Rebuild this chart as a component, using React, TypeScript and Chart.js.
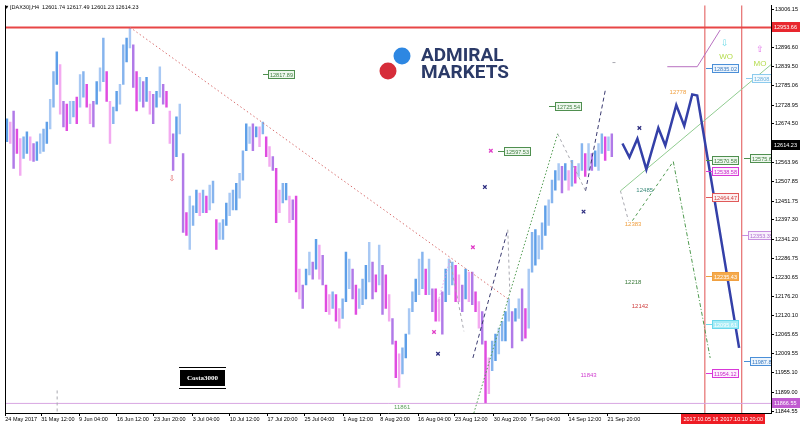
import React, { useEffect, useRef } from "react";
import { Chart, registerables } from "chart.js";

Chart.register(...registerables);

// ---------------- data ----------------
// H4 candle ranges (sampled), price units
const candleHighs = [
  12689, 12680, 12712, 12660, 12632, 12637, 12652, 12637, 12618, 12623,
  12646, 12660, 12680, 12746, 12826, 12883, 12846, 12740, 12732, 12740,
  12740, 12752, 12817, 12826, 12789, 12732, 12740, 12797, 12837, 12923,
  12826, 12740, 12723, 12769, 12789, 12903, 12923, 12954, 12903, 12826,
  12809, 12797, 12809, 12769, 12760, 12769, 12840, 12789, 12769, 12712,
  12646, 12695, 12732, 12589, 12418, 12466, 12438, 12483, 12475, 12483,
  12466, 12498, 12509, 12398, 12389, 12398, 12446, 12475, 12483, 12503,
  12532, 12597, 12675, 12666, 12675, 12666, 12666, 12680, 12637, 12609,
  12580, 12546, 12483, 12503, 12503, 12466, 12455, 12466, 12255, 12209,
  12255, 12304, 12275, 12341, 12324, 12295, 12209, 12181, 12189, 12181,
  12141, 12169, 12304, 12284, 12255, 12209, 12198, 12226, 12266, 12332,
  12275, 12238, 12324, 12266, 12238, 12181, 12112, 12047, 12010, 12027,
  12067, 12141, 12189, 12226, 12284, 12304, 12255, 12284, 12198, 12198,
  12169, 12189, 12255, 12284, 12275, 12266, 12238, 12209, 12255, 12246,
  12246, 12189, 12161, 12132, 12047, 11998, 12047, 12067, 12084, 12104,
  12132, 12169, 12132, 12141, 12169, 12198, 12141, 12255, 12361, 12369,
  12352, 12389, 12438, 12455, 12512, 12540, 12560, 12552, 12560, 12540,
  12569, 12552, 12560, 12618, 12589, 12618, 12589, 12597, 12618, 12646,
  12637, 12637, 12646,
];
const candleLows = [
  12623, 12618, 12546, 12589, 12526, 12575, 12589, 12569, 12566, 12569,
  12589, 12595, 12618, 12660, 12723, 12789, 12703, 12666, 12655, 12675,
  12695, 12675, 12723, 12752, 12723, 12675, 12666, 12732, 12769, 12797,
  12740, 12618, 12675, 12712, 12732, 12789, 12854, 12894, 12780, 12712,
  12740, 12723, 12740, 12703, 12675, 12723, 12752, 12732, 12723, 12618,
  12540, 12580, 12646, 12361, 12352, 12312, 12381, 12418, 12409, 12418,
  12418, 12426, 12446, 12312, 12341, 12341, 12381, 12409, 12426, 12426,
  12460, 12512, 12597, 12618, 12597, 12637, 12609, 12646, 12580, 12552,
  12540, 12389, 12418, 12446, 12455, 12389, 12398, 12189, 12169, 12141,
  12209, 12238, 12226, 12255, 12226, 12209, 12132, 12124, 12141, 12104,
  12084, 12112, 12161, 12198, 12169, 12124, 12141, 12152, 12169, 12218,
  12169, 12189, 12209, 12124, 12141, 12104, 12038, 11941, 11913, 11952,
  11998, 12067, 12132, 12161, 12181, 12198, 12181, 12181, 12132, 12104,
  12104, 12067, 12161, 12181, 12209, 12161, 12161, 12132, 12169, 12161,
  12152, 12132, 12084, 12038, 11867, 11895, 11961, 11990, 12010, 12047,
  12047, 12104, 12027, 12104, 12112, 12047, 12055, 12084, 12246, 12266,
  12284, 12312, 12352, 12381, 12446, 12483, 12512, 12475, 12512, 12483,
  12495, 12503, 12523, 12540, 12523, 12540, 12540, 12552, 12540, 12589,
  12569, 12597, 12580,
];

const xTickBars = [-0.5, 10.3, 21.7, 33.1, 44.2, 55.9, 67.0, 78.4, 89.5, 101.2, 112.3, 123.7, 134.8, 146.5, 157.6, 169.0, 180.7];
const xTickLabels = [
  "24 May 2017", "31 May 12:00", "9 Jun 04:00", "16 Jun 12:00", "23 Jun 20:00", "3 Jul 04:00",
  "10 Jul 12:00", "17 Jul 20:00", "25 Jul 04:00", "1 Aug 12:00", "8 Aug 20:00", "16 Aug 04:00",
  "23 Aug 12:00", "30 Aug 20:00", "7 Sep 04:00", "14 Sep 12:00", "21 Sep 20:00",
];
const yTickValues = [
  13006.15, 12896.6, 12839.5, 12785.06, 12728.95, 12674.5, 12563.96, 12507.85, 12451.75, 12397.3,
  12341.2, 12286.75, 12230.65, 12176.2, 12120.1, 12065.65, 12009.55, 11955.1, 11899.0, 11844.55,
];

const symbolHeader = "[DAX30],H4  12601.74 12617.49 12601.23 12614.23";
const resistanceLevel = 12953.66;
const supportLevel = 11866.55;
const lastPrice = 12614.23;
const timeMarkerBars = [210.0, 221.1];
const timeMarkerLabels = ["2017.10.05 16:00", "2017.10.10 20:00"];

const downTrendBars = [37.0, 150.7];
const downTrendPrices = [12954, 12169];

const waveBars = [185.2, 187.3, 189.7, 192.4, 196.0, 198.1, 201.4, 203.8, 206.2, 207.7, 220.3];
const wavePrices = [12618, 12578, 12632, 12543, 12663, 12612, 12729, 12669, 12760, 12757, 12027];

const channelBars = [184.6, 229.9];
const channelPrices = [12481, 12846];

const violetBars = [198.7, 207.7, 214.6];
const violetPrices = [12840, 12840, 12946];

const guideBars = [
  [140.2, 150.7], [150.7, 151.3], [140.5, 165.7], [165.7, 174.1], [174.1, 180.1], [129.7, 133.3],
  [133.3, 137.5], [184.6, 187.0], [188.2, 200.5], [200.5, 211.6], [182.2, 183.4], [15.1, 15.1],
];
const guidePrices = [
  [11998, 12369], [12369, 12189], [11839, 12646], [12646, 12481], [12481, 12775], [12161, 12281],
  [12281, 12075], [12481, 12395], [12395, 12566], [12566, 11998], [12852, 12852], [11904, 11839],
];
const guideKinds = ["navy", "grey", "greenDot", "grey", "navy", "pinkDot", "grey", "grey", "greenDash", "greenDashDot", "grey", "grey"];

const crossBars = [145.6, 143.8, 173.5, 140.2, 128.5, 129.7, 190.3];
const crossPrices = [12597, 12492, 12421, 12318, 12073, 12010, 12663];
const crossKinds = ["pink", "navy", "navy", "pink", "pink", "navy", "navy"];

const tagTexts = ["12817.89", "12597.53", "12725.54", "12835.02", "12808.66", "12570.58", "12575.62", "12538.58", "12464.47", "12353.35", "12235.43", "12095.61", "11987.85", "11954.12"];
const tagFromBars = [76.9, 147.7, 163.0, 210.4, 222.4, 210.4, 221.8, 210.4, 210.4, 221.3, 210.4, 210.4, 221.8, 210.4];
const tagBars = [78.4, 149.5, 164.8, 212.2, 224.2, 212.2, 223.6, 212.2, 212.2, 223.0, 212.2, 212.2, 223.6, 212.2];
const tagPrices = [12817.89, 12597.53, 12725.54, 12835.02, 12808.66, 12570.58, 12575.62, 12538.58, 12464.47, 12353.35, 12235.43, 12095.61, 11987.85, 11954.12];
const tagKinds = ["green", "green", "green", "blue", "sky", "green", "green", "magenta", "red", "violet", "orange", "cyan", "blue", "magenta"];

const noteTexts = ["12778", "12485", "12383", "12218", "12142", "11843", "11861", "⇩", "⇩", "WO", "⇧", "MO"];
const noteBars = [201.9, 191.9, 188.4, 188.4, 190.5, 175.0, 118.9, 49.6, 216.0, 216.4, 226.6, 226.6];
const notePrices = [12767, 12484, 12384, 12216, 12147, 11947, 11855, 12515, 12906, 12870, 12889, 12849];
const noteKinds = ["orange", "teal", "orange", "green", "red", "magenta", "lightgreen", "redArrow", "cyanArrow", "lime", "violetArrow", "lime"];

// ---------------- styles ----------------
const FONT = '"Liberation Sans", Arial, sans-serif';
const upShades = ["#5e9fe8", "#a9c9f4", "#86b4ee"];
const downShades = ["#e04ce0", "#f3aaf0", "#b07ae8"];

const guideStyles: Record<string, { color: string; dash: number[]; width: number }> = {
  navy: { color: "#3a3a70", dash: [4, 3], width: 1 },
  grey: { color: "#a8a8b0", dash: [3, 3], width: 1 },
  greenDot: { color: "#4f9a4f", dash: [1.5, 2], width: 1 },
  pinkDot: { color: "#e8a0e8", dash: [1.5, 2], width: 1 },
  greenDash: { color: "#4f9a4f", dash: [3, 3], width: 1 },
  greenDashDot: { color: "#4f9a4f", dash: [4, 2, 1, 2], width: 1 },
};
const crossColors: Record<string, string> = { pink: "#e040c8", navy: "#2e2e80" };
const tagTones: Record<string, { line: string; fill: string; text: string }> = {
  green: { line: "#4f8f4f", fill: "#eef7ee", text: "#3f7f3f" },
  blue: { line: "#4a8fd8", fill: "#edf5fd", text: "#3a7ac0" },
  sky: { line: "#8ccbee", fill: "#f3fafe", text: "#6ab0dc" },
  magenta: { line: "#d838d8", fill: "#fdf0fd", text: "#c828c8" },
  red: { line: "#e05a5a", fill: "#fdf0f0", text: "#d04040" },
  violet: { line: "#c890e0", fill: "#f8f0fc", text: "#b070d0" },
  orange: { line: "#f0a040", fill: "#f5aa4c", text: "#ffffff" },
  cyan: { line: "#6ad8ec", fill: "#a6ecf6", text: "#ffffff" },
};
const noteStyles: Record<string, { color: string; size: number; font: string }> = {
  orange: { color: "#f0a040", size: 6, font: FONT },
  teal: { color: "#3a8a7a", size: 6, font: FONT },
  green: { color: "#3a7a3a", size: 6, font: FONT },
  red: { color: "#d04040", size: 6, font: FONT },
  magenta: { color: "#d040d0", size: 6, font: FONT },
  lightgreen: { color: "#5aa05a", size: 6, font: FONT },
  redArrow: { color: "#e06060", size: 8, font: '"DejaVu Sans", sans-serif' },
  cyanArrow: { color: "#70dce8", size: 9, font: '"DejaVu Sans", sans-serif' },
  violetArrow: { color: "#e070e8", size: 9, font: '"DejaVu Sans", sans-serif' },
  lime: { color: "#b4dc4c", size: 8, font: FONT },
};

function candleColor(i: number): string {
  const mid = (candleHighs[i] + candleLows[i]) / 2;
  const prev = i > 0 ? (candleHighs[i - 1] + candleLows[i - 1]) / 2 : mid;
  const shades = mid >= prev ? upShades : downShades;
  return shades[i % 3];
}

const overlayPlugin = {
  id: "overlay",
  beforeDatasetsDraw(chart: any) {
    const { ctx } = chart;
    ctx.save();
    // broker logo watermark
    ctx.fillStyle = "#2d87e2";
    ctx.beginPath();
    ctx.arc(402, 56, 8.5, 0, Math.PI * 2);
    ctx.fill();
    ctx.fillStyle = "#d62d3a";
    ctx.beginPath();
    ctx.arc(388, 71, 8.5, 0, Math.PI * 2);
    ctx.fill();
    ctx.fillStyle = "#2b3a68";
    ctx.font = 'bold 19px Roboto, "Liberation Sans", sans-serif';
    ctx.textBaseline = "alphabetic";
    ctx.textAlign = "left";
    ctx.fillText("ADMIRAL", 421, 61);
    ctx.fillText("MARKETS", 421, 78);
    ctx.restore();
  },
  afterDatasetsDraw(chart: any) {
    const { ctx, chartArea: ca, scales } = chart;
    const xs = scales.x;
    const ys = scales.y;
    const X = (v: number) => xs.getPixelForValue(v);
    const Y = (v: number) => ys.getPixelForValue(v);

    ctx.save();
    // left frame
    ctx.strokeStyle = "#000";
    ctx.lineWidth = 1;
    ctx.beginPath();
    ctx.moveTo(Math.round(ca.left) + 0.5, ca.top);
    ctx.lineTo(Math.round(ca.left) + 0.5, ca.bottom);
    ctx.stroke();

    ctx.beginPath();
    ctx.rect(ca.left, ca.top, ca.right - ca.left, ca.bottom - ca.top);
    ctx.clip();

    // header
    ctx.fillStyle = "#000";
    ctx.font = `5.5px ${FONT}`;
    ctx.textBaseline = "middle";
    ctx.textAlign = "left";
    ctx.fillText("▼", 4, 7);
    ctx.fillText(symbolHeader, 10, 7);

    // price tags
    ctx.font = `5.5px ${FONT}`;
    for (let i = 0; i < tagTexts.length; i++) {
      const t = tagTones[tagKinds[i]];
      const y = Math.round(Y(tagPrices[i]));
      const x0 = Math.round(X(tagFromBars[i]));
      const x1 = Math.round(X(tagBars[i]));
      const w = Math.ceil(ctx.measureText(tagTexts[i]).width) + 4;
      ctx.strokeStyle = t.line;
      ctx.lineWidth = 1;
      ctx.beginPath();
      ctx.moveTo(x0, y + 0.5);
      ctx.lineTo(x1, y + 0.5);
      ctx.stroke();
      ctx.fillStyle = t.fill;
      ctx.fillRect(x1, y - 4, w, 9);
      ctx.strokeRect(x1 + 0.5, y - 3.5, w - 1, 8);
      ctx.fillStyle = t.text;
      ctx.fillText(tagTexts[i], x1 + 2, y + 1);
    }

    // notes & arrows
    ctx.textAlign = "center";
    for (let i = 0; i < noteTexts.length; i++) {
      const s = noteStyles[noteKinds[i]];
      ctx.font = `${s.size}px ${s.font}`;
      ctx.fillStyle = s.color;
      ctx.fillText(noteTexts[i], X(noteBars[i]), Y(notePrices[i]));
    }

    // author badge
    ctx.fillStyle = "#000";
    ctx.strokeStyle = "#000";
    ctx.lineWidth = 1;
    ctx.beginPath();
    ctx.moveTo(179, 367.5);
    ctx.lineTo(226, 367.5);
    ctx.moveTo(179, 388.5);
    ctx.lineTo(226, 388.5);
    ctx.stroke();
    ctx.fillRect(180, 370, 45, 16);
    ctx.fillStyle = "#fff";
    ctx.font = 'bold 7px "Liberation Serif", serif';
    ctx.fillText("Costa3000", 202.5, 378.5);
    ctx.restore();
  },
  afterDraw(chart: any) {
    const { ctx, chartArea: ca, scales } = chart;
    const xs = scales.x;
    const ys = scales.y;
    ctx.save();
    ctx.font = `5.5px ${FONT}`;
    ctx.textBaseline = "middle";
    ctx.textAlign = "left";
    const boxes: [number, string][] = [
      [resistanceLevel, "#e8262e"],
      [lastPrice, "#000000"],
      [supportLevel, "#c05ad0"],
    ];
    for (const [p, c] of boxes) {
      const y = Math.round(ys.getPixelForValue(p));
      ctx.fillStyle = c;
      ctx.fillRect(ca.right + 1, y - 5, 29, 10);
      ctx.fillStyle = "#fff";
      ctx.fillText(p.toFixed(2), ca.right + 3, y + 0.5);
    }
    // time markers on the time axis
    ctx.textAlign = "center";
    for (let i = 0; i < timeMarkerBars.length; i++) {
      const x = xs.getPixelForValue(timeMarkerBars[i]);
      const w = ctx.measureText(timeMarkerLabels[i]).width + 4;
      ctx.fillStyle = "#ee1c24";
      ctx.fillRect(Math.round(x - w / 2), ca.bottom + 1, Math.round(w), 10);
      ctx.fillStyle = "#fff";
      ctx.fillText(timeMarkerLabels[i], x, ca.bottom + 6.5);
    }
    ctx.restore();
  },
};

function line(points: { x: number; y: number }[], color: string, width: number, dash: number[] = [], order = 1) {
  return {
    type: "line",
    data: points,
    borderColor: color,
    borderWidth: width,
    borderDash: dash,
    pointRadius: 0,
    fill: false,
    tension: 0,
    order,
  };
}

export default function App() {
  const ref = useRef<HTMLCanvasElement>(null);
  useEffect(() => {
    const canvas = ref.current;
    if (!canvas) return;
    const yMin = 11838.84;
    const yMax = 13017.57;
    const xMin = -0.5;
    const xMax = 229.9;

    const datasets: any[] = [];
    datasets.push({
      type: "bar",
      data: candleHighs.map((h, i) => ({ x: i, y: [candleLows[i], h] })),
      backgroundColor: (c: any) => candleColor(c.dataIndex),
      barThickness: 1.8,
      borderWidth: 0,
      order: 10,
    });
    datasets.push(line([{ x: xMin, y: resistanceLevel }, { x: xMax, y: resistanceLevel }], "#e84646", 2, [], 5));
    datasets.push(line([{ x: xMin, y: supportLevel }, { x: xMax, y: supportLevel }], "#d8a6e2", 1, [], 5));
    timeMarkerBars.forEach((b) => datasets.push(line([{ x: b, y: yMin }, { x: b, y: yMax }], "#e05050", 1, [], 5)));
    datasets.push(line(downTrendBars.map((b, i) => ({ x: b, y: downTrendPrices[i] })), "#d87070", 1, [1.5, 2.5], 4));
    guideBars.forEach((bs, k) => {
      const st = guideStyles[guideKinds[k]];
      datasets.push(line(bs.map((b, j) => ({ x: b, y: guidePrices[k][j] })), st.color, st.width, st.dash, 4));
    });
    datasets.push(line(channelBars.map((b, i) => ({ x: b, y: channelPrices[i] })), "#90cc90", 1, [], 3));
    datasets.push(line(violetBars.map((b, i) => ({ x: b, y: violetPrices[i] })), "#b870c0", 1, [], 3));
    datasets.push(line(waveBars.map((b, i) => ({ x: b, y: wavePrices[i] })), "#3440a8", 2.5, [], 2));
    datasets.push({
      type: "line",
      data: crossBars.map((b, i) => ({ x: b, y: crossPrices[i] })),
      showLine: false,
      pointStyle: "crossRot",
      pointRadius: 2.5,
      pointBorderWidth: 1.3,
      pointBorderColor: crossKinds.map((k) => crossColors[k]),
      pointBackgroundColor: crossKinds.map((k) => crossColors[k]),
      order: 1,
    });

    const chart = new Chart(canvas, {
      type: "bar",
      data: { datasets },
      plugins: [overlayPlugin],
      options: {
        responsive: false,
        devicePixelRatio: 1,
        animation: false,
        events: [],
        layout: { padding: { left: 3, top: 0, right: 0, bottom: 0 } },
        plugins: { legend: { display: false }, tooltip: { enabled: false } },
        scales: {
          x: {
            type: "linear",
            position: "bottom",
            min: xMin,
            max: xMax,
            offset: false,
            grid: { display: true, drawOnChartArea: false, drawTicks: true, tickLength: 3, color: "#000", offset: false },
            border: { display: true, color: "#000", width: 1 },
            ticks: {
              autoSkip: false,
              maxRotation: 0,
              minRotation: 0,
              align: "start",
              padding: 0,
              color: "#000",
              font: { family: FONT, size: 5.5 },
              callback: (_v: any, i: number) => xTickLabels[i] ?? "",
            },
            afterBuildTicks: (s: any) => {
              s.ticks = xTickBars.map((v) => ({ value: v }));
            },
            afterFit: (s: any) => {
              s.height = 13;
              s.paddingLeft = 0;
              s.paddingRight = 0;
            },
          },
          y: {
            type: "linear",
            position: "right",
            min: yMin,
            max: yMax,
            grid: { display: true, drawOnChartArea: false, drawTicks: true, tickLength: 3, color: "#000" },
            border: { display: true, color: "#000", width: 1 },
            ticks: {
              padding: 1,
              color: "#000",
              font: { family: FONT, size: 5.5 },
              callback: (v: any) => Number(v).toFixed(2),
            },
            afterBuildTicks: (s: any) => {
              s.ticks = yTickValues.map((v) => ({ value: v }));
            },
            afterFit: (s: any) => {
              s.width = 29;
              s.paddingTop = 0;
              s.paddingBottom = 0;
            },
          },
        },
      },
    } as any);
    return () => chart.destroy();
  }, []);

  return (
    <div style={{ position: "fixed", left: 0, top: 0, width: 800, height: 426, background: "#fff" }}>
      <canvas ref={ref} width={800} height={426} style={{ display: "block", width: 800, height: 426 }} />
    </div>
  );
}
